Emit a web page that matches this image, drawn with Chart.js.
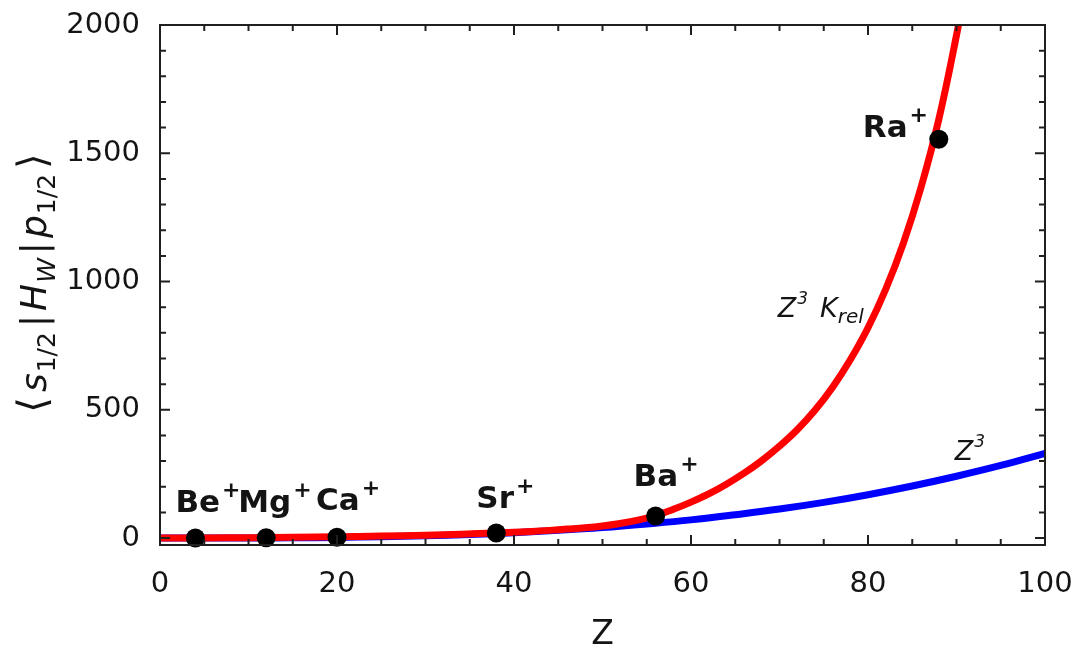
<!DOCTYPE html>
<html>
<head>
<meta charset="utf-8">
<script src="https://cdn.jsdelivr.net/npm/chart.js"></script>
<style>
  body { margin: 0; background: #fff; }
  #wrap { width: 1077px; height: 657px; }
</style>
</head>
<body>
<div id="wrap"><canvas id="myChart"></canvas></div>
<script>
// red curve: Z^3 K_rel
const redZ = [0, 5, 10, 15, 20, 25, 30, 34, 38, 42, 44, 46, 48, 50, 52, 54, 56, 58, 60, 62, 64, 66, 68, 70, 72, 74, 76, 78, 80, 82, 84, 86, 88, 90, 91];
const redVal = [0, 0.5, 1.5, 3, 5, 8, 11, 15, 20, 26, 30, 35, 40, 47, 57, 70, 88, 112, 140, 172, 210, 253, 302, 358, 422, 498, 588, 695, 820, 970, 1150, 1368, 1632, 1960, 2150];

// blue curve: plain Z^3
const blueZ = [0, 5, 10, 15, 20, 25, 30, 35, 40, 45, 50, 55, 60, 65, 70, 75, 80, 85, 90, 95, 100];
const blueVal = [0, 0.04, 0.3, 1.1, 2.6, 5.2, 8.9, 14, 21, 30, 41, 55, 71, 91, 113, 139, 169, 203, 241, 283, 330];

// ions
const ionNames = ['Be', 'Mg', 'Ca', 'Sr', 'Ba', 'Ra'];
const ionZ = [4, 12, 20, 38, 56, 88];
const ionVal = [0, 1, 3, 20, 86, 1555];

const xTicks = [0, 20, 40, 60, 80, 100];
const yTicks = [0, 500, 1000, 1500, 2000];

// where each ion label sits, in pixels from its dot (left edge, baseline)
const labelDx = [-20, -28, -21, -20, -22, -76];
const labelDy = [-26, -26, -27, -25, -30, -2];

const ink = '#141414';

const frameTicks = {
  id: 'frameTicks',
  afterDatasetsDraw(chart) {
    const { ctx, chartArea: a, scales: { x, y } } = chart;
    ctx.save();
    ctx.strokeStyle = '#202020';
    ctx.lineWidth = 2;
    ctx.strokeRect(a.left, a.top, a.right - a.left, a.bottom - a.top);
    ctx.beginPath();
    for (let v = 0; v <= 100; v += 5) {
      const px = x.getPixelForValue(v);
      const len = v % 20 === 0 ? 10 : 6;
      ctx.moveTo(px, a.bottom); ctx.lineTo(px, a.bottom - len);
      ctx.moveTo(px, a.top); ctx.lineTo(px, a.top + len);
    }
    for (let v = 0; v <= 2000; v += 100) {
      const py = y.getPixelForValue(v);
      const len = v % 500 === 0 ? 10 : 6;
      ctx.moveTo(a.left, py); ctx.lineTo(a.left + len, py);
      ctx.moveTo(a.right, py); ctx.lineTo(a.right - len, py);
    }
    ctx.stroke();
    ctx.restore();
  }
};

function drawRuns(ctx, runs, x, y) {
  for (const r of runs) {
    ctx.font = r.font;
    ctx.fillText(r.t, x, y + (r.dy || 0));
    x += ctx.measureText(r.t).width + (r.gap || 0);
  }
  return x;
}

function runsWidth(ctx, runs) {
  let w = 0;
  for (const r of runs) {
    ctx.font = r.font;
    w += ctx.measureText(r.t).width + (r.gap || 0);
  }
  return w;
}

const textBits = {
  id: 'textBits',
  afterDraw(chart) {
    const { ctx, scales: { x, y } } = chart;
    ctx.save();
    ctx.fillStyle = ink;
    ctx.textBaseline = 'alphabetic';
    ctx.textAlign = 'left';

    // ion labels
    ionNames.forEach((name, i) => {
      const px = x.getPixelForValue(ionZ[i]) + labelDx[i];
      const py = y.getPixelForValue(ionVal[i]) + labelDy[i];
      drawRuns(ctx, [
        { t: name, font: 'bold 31px "DejaVu Sans"', gap: 2 },
        { t: '+', font: 'bold 22px "DejaVu Sans"', dy: -15 }
      ], px, py);
    });

    // curve names
    const it = 'oblique 27px "DejaVu Sans"';
    drawRuns(ctx, [
      { t: 'Z', font: it, gap: 1 },
      { t: '3', font: 'oblique 17px "DejaVu Sans"', dy: -13, gap: 12 },
      { t: 'K', font: it, gap: 0 },
      { t: 'rel', font: 'oblique 20px "DejaVu Sans"', dy: 6 }
    ], x.getPixelForValue(69.8), y.getPixelForValue(860));
    drawRuns(ctx, [
      { t: 'Z', font: it, gap: 1 },
      { t: '3', font: 'oblique 17px "DejaVu Sans"', dy: -13 }
    ], x.getPixelForValue(89.8), y.getPixelForValue(305));

    // y axis title, rotated
    const big = 'oblique 36px "DejaVu Sans"';
    const up = '36px "DejaVu Sans"';
    const sub = '25px "DejaVu Sans"';
    const runs = [
      { t: '\u27E8', font: '40px "DejaVu Sans"', gap: 5 },
      { t: 's', font: big, gap: 1 },
      { t: '1/2', font: sub, dy: 9, gap: 5 },
      { t: '|', font: up, gap: 4 },
      { t: 'H', font: big, gap: 1 },
      { t: 'W', font: 'oblique 25px "DejaVu Sans"', dy: 9, gap: 4 },
      { t: '|', font: up, gap: 4 },
      { t: 'p', font: big, gap: 1 },
      { t: '1/2', font: sub, dy: 9, gap: 5 },
      { t: '\u27E9', font: '40px "DejaVu Sans"' }
    ];
    ctx.translate(34, 283);
    ctx.rotate(-Math.PI / 2);
    drawRuns(ctx, runs, -runsWidth(ctx, runs) / 2, 12);
    ctx.restore();
  }
};

const toPts = (xs, ys) => xs.map((v, i) => ({ x: v, y: ys[i] }));

new Chart(document.getElementById('myChart'), {
  type: 'line',
  data: {
    datasets: [
      {
        label: 'ions',
        data: toPts(ionZ, ionVal),
        showLine: false,
        pointRadius: 9.5,
        pointBackgroundColor: '#000',
        pointBorderWidth: 0,
        clip: false
      },
      {
        label: 'Z3 Krel',
        data: toPts(redZ, redVal),
        borderColor: '#ff0000',
        borderWidth: 7,
        pointRadius: 0,
        tension: 0.4
      },
      {
        label: 'Z3',
        data: toPts(blueZ, blueVal),
        borderColor: '#0000ff',
        borderWidth: 7,
        pointRadius: 0,
        tension: 0.4
      }
    ]
  },
  options: {
    responsive: true,
    maintainAspectRatio: false,
    animation: false,
    layout: { padding: { top: 25, right: 32, left: 0, bottom: 0 } },
    plugins: {
      legend: { display: false },
      tooltip: { enabled: false }
    },
    scales: {
      x: {
        type: 'linear',
        min: 0,
        max: 100,
        grid: { display: false },
        border: { display: false },
        afterBuildTicks: (s) => { s.ticks = xTicks.map(v => ({ value: v })); },
        afterFit: (s) => { s.height = 112; s.paddingLeft = 0; s.paddingRight = 0; },
        ticks: {
          color: ink,
          padding: 14,
          maxRotation: 0,
          callback: (v) => String(v),
          font: { family: '"DejaVu Sans"', size: 29 }
        },
        title: {
          display: true,
          text: 'Z',
          color: ink,
          padding: { top: 0, bottom: 2 },
          font: { family: '"DejaVu Sans"', size: 33 }
        }
      },
      y: {
        type: 'linear',
        min: -27,
        max: 2000,
        grid: { display: false },
        border: { display: false },
        afterBuildTicks: (s) => { s.ticks = yTicks.map(v => ({ value: v })); },
        afterFit: (s) => { s.width = 160; s.paddingTop = 0; s.paddingBottom = 0; },
        ticks: {
          color: ink,
          padding: 12,
          callback: (v) => String(v),
          font: { family: '"DejaVu Sans"', size: 29 }
        }
      }
    }
  },
  plugins: [frameTicks, textBits]
});
</script>
</body>
</html>
